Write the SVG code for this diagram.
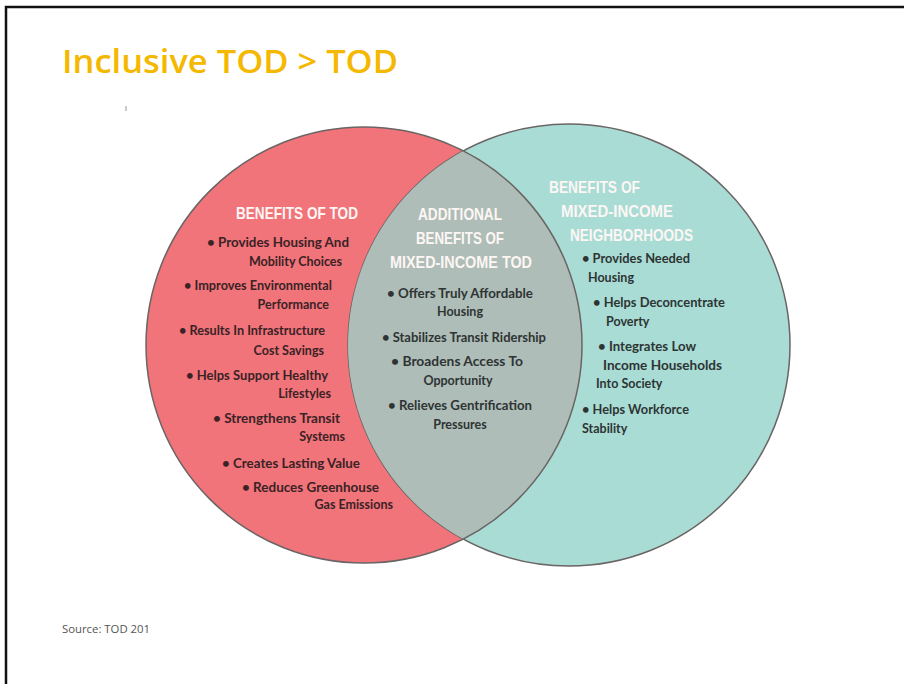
<svg xmlns="http://www.w3.org/2000/svg" width="904" height="684" viewBox="0 0 904 684">
<style>
.t{font-family:"Open Sans","Liberation Sans",sans-serif;font-weight:600;fill:#f5b800;font-size:32px}
.h{font-family:"Liberation Sans",Arial,sans-serif;font-weight:bold;fill:#fdf6f4;font-size:17px}
.b{font-family:Lato,"Liberation Sans",sans-serif;font-weight:bold;fill:#3a2226;font-size:12.5px}
.m{fill:#2e3434}
.e{text-anchor:end}
.c{text-anchor:middle}
.s{font-family:"Open Sans","Liberation Sans",sans-serif;fill:#555;font-size:10px}
</style>
<rect width="904" height="684" fill="#fff"/>
<path d="M6 684V7H904" fill="none" stroke="#111" stroke-width="2.5"/>
<text class="t" x="62" y="73" textLength="336" lengthAdjust="spacingAndGlyphs">Inclusive TOD &gt; TOD</text>
<line x1="126" y1="106" x2="126" y2="111" stroke="#999" stroke-width="1"/>
<g id="circles">
<g id="tod"><circle cx="364" cy="345" r="218" fill="#f07479" stroke="#6a6464" stroke-width="1.5"/></g>
<g id="mixed"><circle cx="569" cy="345" r="221" fill="#a8dcd4" stroke="#6a6464" stroke-width="1.5"/></g>
<g id="overlap">
<clipPath id="cp"><circle cx="364" cy="345" r="218"/></clipPath>
<clipPath id="cp2"><circle cx="569" cy="345" r="221"/></clipPath>
<circle cx="569" cy="345" r="221" fill="#aebdb7" clip-path="url(#cp)"/>
<circle cx="364" cy="345" r="218" fill="none" stroke="#6a6464" stroke-width="1.5" clip-path="url(#cp2)"/>
</g>
</g>
<g id="left-text">
<text class="h" x="236" y="219" textLength="122" lengthAdjust="spacingAndGlyphs">BENEFITS OF TOD</text>
<text class="b" x="207" y="247" textLength="142" lengthAdjust="spacingAndGlyphs">• Provides Housing And</text>
<text class="b e" x="342" y="266">Mobility Choices</text>
<text class="b" x="184" y="290" textLength="148" lengthAdjust="spacingAndGlyphs">• Improves Environmental</text>
<text class="b e" x="329" y="309">Performance</text>
<text class="b" x="179" y="335" textLength="146" lengthAdjust="spacingAndGlyphs">• Results In Infrastructure</text>
<text class="b e" x="324" y="355">Cost Savings</text>
<text class="b" x="186" y="380" textLength="142" lengthAdjust="spacingAndGlyphs">• Helps Support Healthy</text>
<text class="b e" x="331" y="398">Lifestyles</text>
<text class="b" x="213" y="423" textLength="127" lengthAdjust="spacingAndGlyphs">• Strengthens Transit</text>
<text class="b e" x="345" y="441">Systems</text>
<text class="b" x="222" y="468" textLength="138" lengthAdjust="spacingAndGlyphs">• Creates Lasting Value</text>
<text class="b" x="242" y="492" textLength="137" lengthAdjust="spacingAndGlyphs">• Reduces Greenhouse</text>
<text class="b e" x="393" y="509">Gas Emissions</text>
</g>
<g id="middle-text">
<text class="h c" x="460" y="220" textLength="84" lengthAdjust="spacingAndGlyphs">ADDITIONAL</text>
<text class="h c" x="460" y="244" textLength="88" lengthAdjust="spacingAndGlyphs">BENEFITS OF</text>
<text class="h c" x="461" y="268" textLength="142" lengthAdjust="spacingAndGlyphs">MIXED-INCOME TOD</text>
<text class="b m" x="387" y="298" textLength="146" lengthAdjust="spacingAndGlyphs">• Offers Truly Affordable</text>
<text class="b m c" x="460" y="316">Housing</text>
<text class="b m" x="382" y="342" textLength="164" lengthAdjust="spacingAndGlyphs">• Stabilizes Transit Ridership</text>
<text class="b m" x="391" y="366" textLength="132" lengthAdjust="spacingAndGlyphs">• Broadens Access To</text>
<text class="b m c" x="458" y="385">Opportunity</text>
<text class="b m" x="388" y="410" textLength="144" lengthAdjust="spacingAndGlyphs">• Relieves Gentrification</text>
<text class="b m c" x="460" y="429">Pressures</text>
</g>
<g id="right-text">
<text class="h" x="549" y="193" textLength="91" lengthAdjust="spacingAndGlyphs">BENEFITS OF</text>
<text class="h" x="561" y="217" textLength="112" lengthAdjust="spacingAndGlyphs">MIXED-INCOME</text>
<text class="h" x="570" y="241" textLength="123" lengthAdjust="spacingAndGlyphs">NEIGHBORHOODS</text>
<text class="b m" x="582" y="263" textLength="108" lengthAdjust="spacingAndGlyphs">• Provides Needed</text>
<text class="b m" x="588" y="282">Housing</text>
<text class="b m" x="593" y="307" textLength="132" lengthAdjust="spacingAndGlyphs">• Helps Deconcentrate</text>
<text class="b m" x="606" y="326">Poverty</text>
<text class="b m" x="598" y="351" textLength="98" lengthAdjust="spacingAndGlyphs">• Integrates Low</text>
<text class="b m" x="603" y="370" textLength="119" lengthAdjust="spacingAndGlyphs">Income Households</text>
<text class="b m" x="596" y="388">Into Society</text>
<text class="b m" x="582" y="414" textLength="107" lengthAdjust="spacingAndGlyphs">• Helps Workforce</text>
<text class="b m" x="582" y="433">Stability</text>
</g>
<text class="s" x="62" y="633" textLength="88" lengthAdjust="spacingAndGlyphs">Source: TOD 201</text>
</svg>
